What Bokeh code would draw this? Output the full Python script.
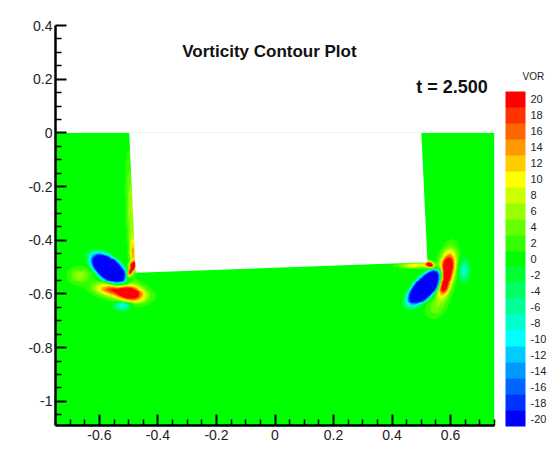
import numpy as np
from bokeh.plotting import figure
from bokeh.models import LinearColorMapper, ColorBar, FixedTicker, Label
from bokeh.embed import file_html
from bokeh.resources import INLINE

# ---------------- axes / ticks ----------------
x_range = (-0.75, 0.75)
y_range = (-1.09, 0.4)
x_major = [-0.6, -0.4, -0.2, 0.0, 0.2, 0.4, 0.6]
x_major_labels = ["-0.6", "-0.4", "-0.2", "0", "0.2", "0.4", "0.6"]
x_minor = [-0.75, -0.7, -0.65, -0.55, -0.5, -0.45, -0.35, -0.3, -0.25, -0.15, -0.1, -0.05,
           0.05, 0.1, 0.15, 0.25, 0.3, 0.35, 0.45, 0.5, 0.55, 0.65, 0.7, 0.75]
y_major = [-1.0, -0.8, -0.6, -0.4, -0.2, 0.0, 0.2, 0.4]
y_major_labels = ["-1", "-0.8", "-0.6", "-0.4", "-0.2", "0", "0.2", "0.4"]
y_minor = [-1.05, -0.95, -0.9, -0.85, -0.75, -0.7, -0.65, -0.55, -0.5, -0.45, -0.35, -0.3,
           -0.25, -0.15, -0.1, -0.05, 0.05, 0.1, 0.15, 0.25, 0.3, 0.35]

# ---------------- contour levels / legend ----------------
levels = [-20, -18, -16, -14, -12, -10, -8, -6, -4, -2, 0, 2, 4, 6, 8, 10, 12, 14, 16, 18, 20]
level_labels = ["-20", "-18", "-16", "-14", "-12", "-10", "-8", "-6", "-4", "-2", "0",
                "2", "4", "6", "8", "10", "12", "14", "16", "18", "20"]
palette = ["#0000ff", "#0033ff", "#0066ff", "#0099ff", "#00ccff", "#00ffff", "#00ffcc",
           "#00ff99", "#00ff66", "#00ff33", "#00ff00", "#33ff00", "#66ff00", "#99ff00",
           "#ccff00", "#ffff00", "#ffcc00", "#ff9900", "#ff6600", "#ff3300", "#ff0000"]
legend_title = "VOR"

# ---------------- body (white cavity) ----------------
cavity_x = [-0.498, -0.476, 0.521, 0.500]
cavity_y = [0.0, -0.521, -0.482, 0.0]

# ---------------- vorticity features ----------------
#            centre x, centre y, peak, semi-axis a, semi-axis b, angle (deg), profile power
blob_x   = [-0.570, -0.500, -0.575, -0.522, -0.494, -0.668, -0.493, -0.487, -0.486,
            0.515, 0.590, 0.578, 0.647, 0.530, 0.480, 0.555]
blob_y   = [-0.508, -0.598, -0.585, -0.644, -0.515, -0.533, -0.300, -0.450, -0.493,
            -0.576, -0.508, -0.578, -0.514, -0.492, -0.495, -0.645]
blob_amp = [-40, 30, 14, -11, 24, 6, 7, 11, 20,
            -40, 32, 16, -9, 24, 11, 5]
blob_sa  = [0.060, 0.035, 0.032, 0.018, 0.020, 0.025, 0.120, 0.035, 0.009,
            0.066, 0.042, 0.026, 0.025, 0.011, 0.035, 0.030]
blob_sb  = [0.032, 0.020, 0.016, 0.011, 0.006, 0.020, 0.010, 0.007, 0.006,
            0.029, 0.017, 0.013, 0.012, 0.007, 0.006, 0.020]
blob_ang = [-42, -12, -8, 0, 65, 0, 92, 92, 0,
            49, 80, 80, 90, -30, 2, 60]
blob_pow = [2, 1, 1, 1, 1, 1, 1, 1, 1,
            2, 1, 1, 1, 1, 1, 1]

# ---------------- build field ----------------
nx, ny = 440, 320
y_bottom, y_top = -1.09, 0.0
gx = np.linspace(x_range[0], x_range[1], nx)
gy = np.linspace(y_bottom, y_top, ny)
X, Y = np.meshgrid(gx, gy)
field = np.zeros_like(X)
for cx, cy, a, sa, sb, ang, pw in zip(blob_x, blob_y, blob_amp, blob_sa, blob_sb, blob_ang, blob_pow):
    t = np.deg2rad(ang)
    u = (X - cx) * np.cos(t) + (Y - cy) * np.sin(t)
    v = -(X - cx) * np.sin(t) + (Y - cy) * np.cos(t)
    r2 = (u / sa) ** 2 + (v / sb) ** 2
    field += a * np.exp(-0.5 * r2 ** pw)

mapper = LinearColorMapper(palette=palette, low=-21, high=21)

# ---------------- figure ----------------
p = figure(width=547, height=466, x_range=x_range, y_range=y_range,
           output_backend="svg", toolbar_location=None,
           min_border_left=55, min_border_right=53, min_border_top=25, min_border_bottom=41)
p.outline_line_color = None
p.grid.visible = False
p.background_fill_color = "white"
p.border_fill_color = "white"

p.image(image=[field], x=x_range[0], y=y_bottom, dw=x_range[1] - x_range[0],
        dh=y_top - y_bottom, color_mapper=mapper)
p.patch(cavity_x, cavity_y, fill_color="white", line_color=None)

for ax, major, minor, labels in ((p.xaxis[0], x_major, x_minor, x_major_labels),
                                 (p.yaxis[0], y_major, y_minor, y_major_labels)):
    ax.ticker = FixedTicker(ticks=major, minor_ticks=minor)
    ax.major_label_overrides = {float(k): s for k, s in zip(major, labels)}
    ax.axis_line_width = 2.5
    ax.axis_line_color = "black"
    ax.major_tick_in = 11
    ax.major_tick_out = 0
    ax.minor_tick_in = 6
    ax.minor_tick_out = 0
    ax.major_tick_line_width = 2
    ax.minor_tick_line_width = 1.5
    ax.major_tick_line_color = "black"
    ax.minor_tick_line_color = "black"
    ax.major_label_text_font = "Liberation Sans"
    ax.major_label_text_font_size = "14px"
    ax.major_label_text_color = "#222222"
p.xaxis.major_label_standoff = 4
p.yaxis.major_label_standoff = 3

font = "Liberation Sans"

cb = ColorBar(color_mapper=mapper, ticker=FixedTicker(ticks=levels),
              major_label_overrides={int(k): s for k, s in zip(levels, level_labels)},
              width=20, height=335, location=(450, -1), padding=0, label_standoff=5,
              major_label_text_font=font, major_label_text_font_size="11px",
              major_label_text_color="#222222", major_tick_line_color=None,
              bar_line_color=None, border_line_color=None,
              background_fill_color=None, background_fill_alpha=0)
p.add_layout(cb)

# legend heading, drawn as the single label of an invisible one-band bar
title_mapper = LinearColorMapper(palette=["#ffffff"], low=0, high=1)
cb_title = ColorBar(color_mapper=title_mapper, ticker=FixedTicker(ticks=[0.5]),
                    major_label_overrides={0.5: legend_title},
                    width=1, height=12, location=(465, 343), padding=0, label_standoff=1,
                    scale_alpha=0, major_label_text_font=font, major_label_text_font_size="10px",
                    major_label_text_color="#222222", major_tick_line_color=None,
                    bar_line_color=None, border_line_color=None,
                    background_fill_color=None, background_fill_alpha=0)
p.add_layout(cb_title)

p.add_layout(Label(x=-0.019, y=0.305, text="Vorticity Contour Plot", text_align="center",
                   text_baseline="middle", text_font=font, text_font_style="bold",
                   text_font_size="17px", text_color="#111111"))
p.add_layout(Label(x=0.605, y=0.171, text="t = 2.500", text_align="center",
                   text_baseline="middle", text_font=font, text_font_style="bold",
                   text_font_size="18px", text_color="#111111"))
p.add_layout(Label(x=0.002, y=-1.192, text="X", text_align="center", text_baseline="middle",
                   text_font=font, text_font_size="18px", text_color="#222222"))
p.add_layout(Label(x=-0.900, y=-0.358, text="Y", text_align="center", text_baseline="middle",
                   angle=np.pi / 2, text_font=font, text_font_size="18px", text_color="#222222"))

open("out.html", "w").write(file_html(p, INLINE))
